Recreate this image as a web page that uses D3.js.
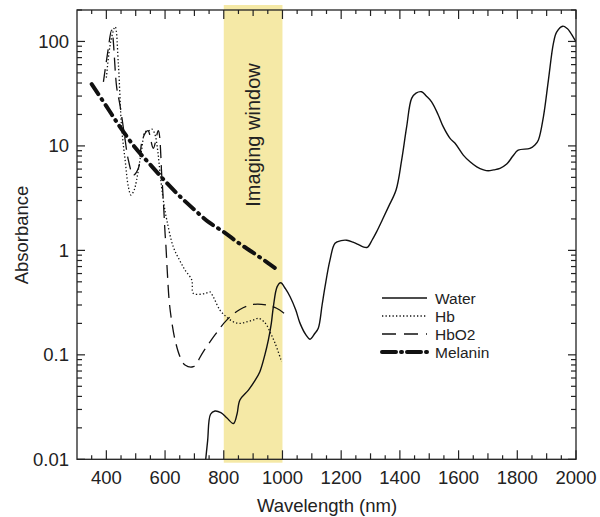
<!DOCTYPE html>
<html><head><meta charset="utf-8">
<script src="https://cdn.jsdelivr.net/npm/d3@7"></script>
<style>body{margin:0;background:#fff}svg{display:block;font-family:"Liberation Sans",Arial,sans-serif}</style>
</head><body><svg id="c" width="600" height="517"></svg>
<script>
const xTickLabels = [400,600,800,1000,1200,1400,1600,1800,2000];
const yTickLabels = [0.01,0.1,1,10,100];
const imagingWindow = [800,1000];
const seriesNames = ["Water","Hb","HbO2","Melanin"];

const waterNm  = [735,745,755,770,790,810,833,845,855,884,905,923,940,952,962,969,982,994,1010,1026,1045,1060,1080,1094,1110,1122,1135,1145,1162,1179,1200,1219,1240,1258,1275,1289,1305,1321,1340,1361,1387,1406,1423,1440,1455,1474,1490,1508,1530,1548,1571,1588,1616,1640,1662,1685,1701,1720,1741,1764,1785,1803,1843,1860,1872,1889,1906,1923,1934,1955,1970,1980,2000];
const waterAbs = [0.008,0.015,0.027,0.029,0.028,0.025,0.022,0.027,0.037,0.046,0.056,0.069,0.1,0.139,0.2,0.29,0.45,0.49,0.43,0.36,0.27,0.2,0.155,0.141,0.16,0.18,0.3,0.45,0.81,1.17,1.24,1.25,1.2,1.14,1.08,1.07,1.25,1.51,1.95,2.61,3.78,7.3,15.2,28.5,32,33,30,26.4,20,15.2,11.8,10.6,8.17,7.0,6.3,5.9,5.78,5.9,6.1,6.7,8.0,9.1,9.46,10.2,11.4,19,42.7,95.7,123,140,133,123,99];

const hbNm  = [400,415,430,441,452,464,475,484,495,503,520,532,545,555,565,575,583,594,606,628,650,668,691,696,719,740,753,764,787,810,833,855,878,900,918,935,946,960,975,997];
const hbAbs = [45,100,138,60,15,7.3,4.06,3.38,3.8,4.71,9.1,13.6,14,14.5,13,9,5.5,3.03,1.95,1.08,0.8,0.648,0.52,0.388,0.38,0.39,0.4,0.36,0.268,0.23,0.207,0.2,0.207,0.215,0.224,0.21,0.193,0.16,0.129,0.086];

const hbo2Nm  = [390,405,418,435,446,464,475,492,509,520,532,542,560,577,589,594,600,603,608,614,622,634,651,668,696,730,770,810,855,901,946,980,1014];
const hbo2Abs = [41,80,128,36.8,25,11.4,7.3,5.25,6.1,10.6,13.2,14,9.5,14,5.06,3.03,1.46,1.1,0.6,0.33,0.215,0.139,0.096,0.08,0.077,0.107,0.155,0.215,0.272,0.304,0.3,0.279,0.24];

const melaninNm  = [350,400,450,500,550,600,650,700,750,800,850,900,950,980];
const melaninAbs = [39,24,14.7,9.5,6.6,4.6,3.3,2.45,1.85,1.5,1.18,0.95,0.76,0.66];

const L=77, R=576, T=10, B=459.3;
const svg = d3.select("#c");
const x = d3.scaleLinear().domain([300,2000]).range([L,R]);
const y = d3.scaleLog().domain([0.01,200]).range([B,T]);

// imaging window
svg.append("rect").attr("x",x(imagingWindow[0])).attr("width",x(imagingWindow[1])-x(imagingWindow[0]))
  .attr("y",5).attr("height",462.7-5).attr("fill","#f5e9a6");

svg.append("text").attr("transform",`translate(${(x(imagingWindow[0])+x(imagingWindow[1]))/2+6.5},135) rotate(-90)`)
  .attr("text-anchor","middle").attr("font-size",20).attr("fill","#222").text("Imaging window");

svg.append("clipPath").attr("id","clip").append("rect").attr("x",L).attr("y",T).attr("width",R-L).attr("height",B-T);

const line = d3.line().x(d=>x(d[0])).y(d=>y(d[1])).curve(d3.curveCatmullRom.alpha(0.5));
const zip=(a,b)=>a.map((v,i)=>[v,b[i]]);
const g = svg.append("g").attr("clip-path","url(#clip)");
const styles = {
  Water:{w:1.4,dash:null,cap:"butt"},
  Hb:{w:1.3,dash:"1.3,2.2",cap:"butt"},
  HbO2:{w:1.3,dash:"13,7",cap:"butt"},
  Melanin:{w:4,dash:"12,6,1,6",cap:"round"}
};
const data = {Water:zip(waterNm,waterAbs),Hb:zip(hbNm,hbAbs),HbO2:zip(hbo2Nm,hbo2Abs),Melanin:zip(melaninNm,melaninAbs)};
["HbO2","Hb","Melanin","Water"].forEach(k=>{
  g.append("path").attr("d",line(data[k])).attr("fill","none").attr("stroke","#111")
   .attr("stroke-width",styles[k].w).attr("stroke-dasharray",styles[k].dash).attr("stroke-linecap",styles[k].cap);
});

// frame
svg.append("rect").attr("x",L).attr("y",T).attr("width",R-L).attr("height",B-T).attr("fill","none").attr("stroke","#222").attr("stroke-width",1.3);

// x ticks
const xt = d3.range(350,2001,50);
const tlen = v => v%200===0?9:(v%100===0?6:4);
const ax = svg.append("g").attr("stroke","#222").attr("stroke-width",1.2);
xt.forEach(v=>{
  ax.append("line").attr("x1",x(v)).attr("x2",x(v)).attr("y1",B).attr("y2",B-tlen(v));
  ax.append("line").attr("x1",x(v)).attr("x2",x(v)).attr("y1",T).attr("y2",T+tlen(v));
});
// y ticks
const yt=[];
for(let e=-2;e<=2;e++){for(let m=1;m<=9;m++){const v=m*Math.pow(10,e); if(v<=200) yt.push([v,m===1]);}}
yt.forEach(([v,maj])=>{
  const len = maj?8:5;
  ax.append("line").attr("x1",L).attr("x2",L+len).attr("y1",y(v)).attr("y2",y(v));
  ax.append("line").attr("x1",R).attr("x2",R-len).attr("y1",y(v)).attr("y2",y(v));
});
// labels
xTickLabels.forEach(v=>{
  svg.append("text").attr("x",x(v)).attr("y",484).attr("text-anchor","middle").attr("font-size",18.5).attr("fill","#222").text(v);
});
yTickLabels.forEach(v=>{
  svg.append("text").attr("x",69).attr("y",y(v)+6.5).attr("text-anchor","end").attr("font-size",18.5).attr("fill","#222").text(v);
});
svg.append("text").attr("x",327).attr("y",512).attr("text-anchor","middle").attr("font-size",18.5).attr("fill","#222").text("Wavelength (nm)");
svg.append("text").attr("transform","translate(28,235) rotate(-90)").attr("text-anchor","middle").attr("font-size",18.5).attr("fill","#222").text("Absorbance");

// legend
seriesNames.forEach((k,i)=>{
  const yy = 298 + i*18;
  svg.append("line").attr("x1",382).attr("x2",427).attr("y1",yy).attr("y2",yy).attr("stroke","#111")
    .attr("stroke-width",styles[k].w).attr("stroke-dasharray",k==="HbO2"?"14,8":(k==="Melanin"?"14,5,1,5":styles[k].dash)).attr("stroke-linecap",styles[k].cap);
  svg.append("text").attr("x",435).attr("y",yy+5.5).attr("font-size",15.5).attr("fill","#222").text(k);
});
</script></body></html>
